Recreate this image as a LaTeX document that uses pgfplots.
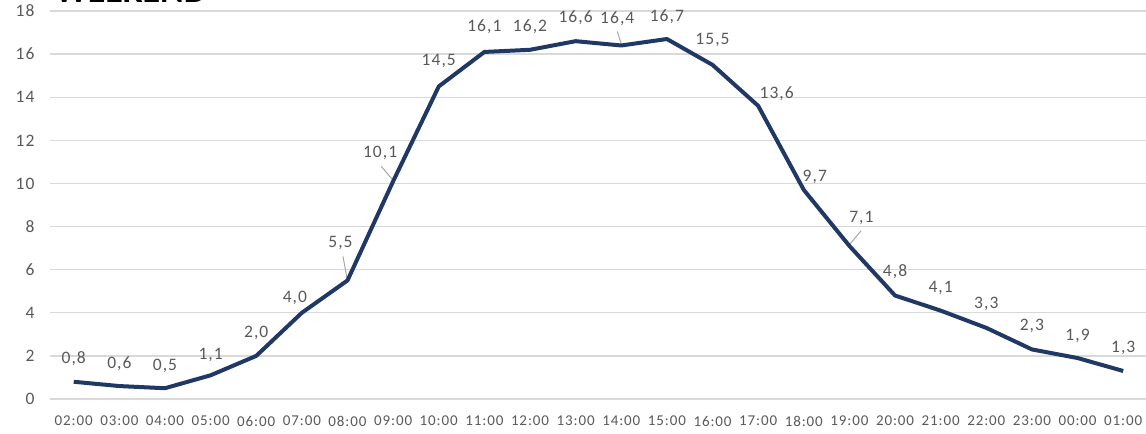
\documentclass[border=0pt]{standalone}
\usepackage{pgfplots}
\pgfplotsset{compat=1.18}
\usepackage{pgfplotstable}
\usepackage{fontspec}
\setmainfont{Carlito}[LetterSpace=6]
\newfontfamily\titlefont{Carlito}
\definecolor{navy}{HTML}{203864}
\definecolor{lbl}{HTML}{595959}
\definecolor{gridc}{HTML}{D9D9D9}
\definecolor{leader}{HTML}{A6A6A6}

\pgfplotstableread{
x y dx dy
0 0.8 0 23
1 0.6 0 22
2 0.5 0 22
3 1.1 0 20
4 2.0 0 23
5 4.0 -7 15
6 5.5 -7 37
7 10.1 -13 28
8 14.5 0 25
9 16.1 0 25
10 16.2 0 23
11 16.6 0 23
12 16.4 -4 27
13 16.7 0 22
14 15.5 0 25
15 13.6 18.5 12.5
16 9.7 11 13
17 7.1 12 28
18 4.8 0 24
19 4.1 0 23
20 3.3 0 24
21 2.3 0 23
22 1.9 0 22
23 1.3 0 23
}\datatable

\begin{document}
\begin{tikzpicture}
\begin{axis}[
  name=ax,
  scale only axis,
  width=1096pt, height=388pt,
  xmin=-0.52, xmax=23.5,
  ymin=0, ymax=18,
  ytick={0,2,...,18},
  xtick={0,...,23},
  xticklabels={02:00,03:00,04:00,05:00,06:00,07:00,08:00,09:00,10:00,11:00,12:00,13:00,14:00,15:00,16:00,17:00,18:00,19:00,20:00,21:00,22:00,23:00,00:00,01:00},
  axis line style={draw=none},
  major tick length=0pt,
  ymajorgrids,
  grid style={color=gridc, line width=1.3pt},
  /pgf/number format/assume math mode=true,
  yticklabel style={font=\fontsize{17.5}{20}\selectfont, text=lbl, anchor=east, xshift=-12pt},
  xticklabel style={font=\fontsize{15}{18}\selectfont, text=lbl, anchor=center, yshift=-22pt},
  clip=false,
]
\draw[leader, line width=1pt] ([shift={(-4.5pt,24pt)}]axis cs:6,5.5) -- ([shift={(-0.5pt,2pt)}]axis cs:6,5.5);
\draw[leader, line width=1pt] ([shift={(-12pt,15pt)}]axis cs:7,10.1) -- ([shift={(0pt,1pt)}]axis cs:7,10.1);
\draw[leader, line width=1pt] ([shift={(-4pt,14pt)}]axis cs:12,16.4) -- ([shift={(0pt,1.5pt)}]axis cs:12,16.4);
\draw[leader, line width=1pt] ([shift={(11.5pt,15pt)}]axis cs:17,7.1) -- ([shift={(0.5pt,2pt)}]axis cs:17,7.1);
\addplot[
  navy, line width=4pt, line join=round, mark=none,
  visualization depends on={\thisrow{dx} \as \dx},
  visualization depends on={\thisrow{dy} \as \dy},
  nodes near coords,
  every node near coord/.append style={
    /pgf/number format/use comma,
    /pgf/number format/fixed,
    /pgf/number format/fixed zerofill,
    /pgf/number format/precision=1,
    /pgf/number format/assume math mode=true,
    anchor=center, xshift=\dx pt, yshift=\dy pt,
    font=\fontsize{17.5}{20}\selectfont, text=lbl, inner sep=0pt,
  },
] table[x=x, y=y] {\datatable};
\node[anchor=base west, font=\titlefont\fontsize{36}{40}\bfseries\selectfont, inner sep=0pt] at ([shift={(5pt,8pt)}]rel axis cs:0,1) {WEEKEND};
\end{axis}
\pgfresetboundingbox
\path[use as bounding box] ([shift={(-50pt,-34pt)}]ax.south west) rectangle ([shift={(0pt,11pt)}]ax.north east);
\end{tikzpicture}
\end{document}
